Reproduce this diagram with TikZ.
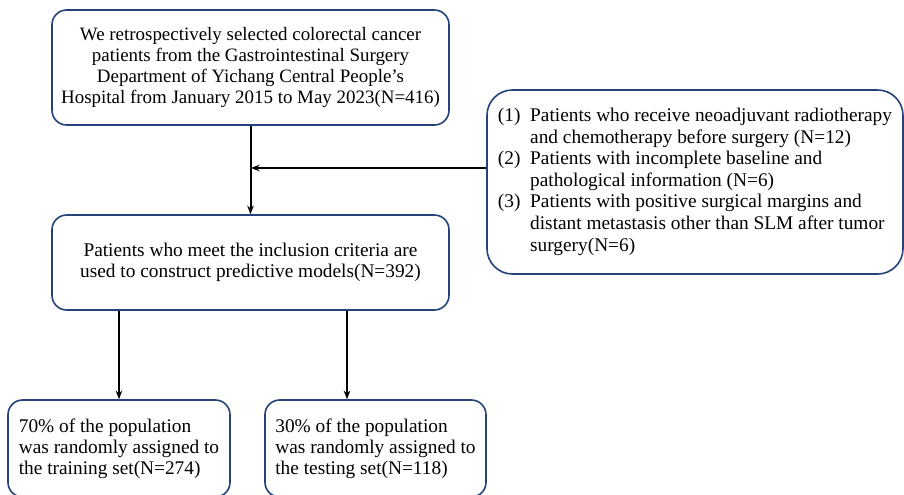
\documentclass[tikz,border=0pt]{standalone}
\usepackage{fontspec}
\setmainfont{Liberation Serif}
\usepackage{tikz}
\usetikzlibrary{positioning,arrows.meta}
\definecolor{boxblue}{RGB}{38,66,122}
\tikzset{%
  ptr/.style={%
    -{Stealth[length=6.5pt,width=5pt]},
    line width=1.5pt
  },
  stagebox/.style={%
    draw=boxblue,
    line width=1.2pt,
    rounded corners=11pt,
    inner sep=0pt,
    align=center,
    font=\fontsize{14.5}{15.9}\selectfont
  }
}

\begin{document}
\begin{tikzpicture}[x=0.75pt,y=-0.75pt]
    \useasboundingbox (0,0) rectangle (904,494);
    \clip (0,0) rectangle (904,494);

    \node[stagebox,font=\fontsize{14.2}{15.9}\selectfont,minimum width=397*0.75pt,minimum height=115*0.75pt] (start) at (250.5,67.5)
    {We retrospectively selected colorectal cancer\\
     patients from the Gastrointestinal Surgery\\
     Department of Yichang Central People's\\
     Hospital from January 2015 to May 2023(N=416)};

    \node[stagebox,minimum width=397*0.75pt,minimum height=95*0.75pt] (model) at (250.5,262.5)
    {Patients who meet the inclusion criteria are\\
     used to construct predictive models(N=392)};

    \node[stagebox,rounded corners=19pt,minimum width=416*0.75pt,minimum height=184*0.75pt] (excl) at (695,182)
    {\renewcommand{\arraystretch}{1.02}%
     \begin{tabular}{@{}l@{~~}l@{}}
     (1) & Patients who receive neoadjuvant radiotherapy\\
         & and chemotherapy before surgery (N=12)\\
     (2) & Patients with incomplete baseline and\\
         & pathological information (N=6)\\
     (3) & Patients with positive surgical margins and\\
         & distant metastasis other than SLM after tumor\\
         & surgery(N=6)
     \end{tabular}};

    \node[stagebox,align=left,minimum width=222*0.75pt,minimum height=97*0.75pt] (train) at (119,448.5)
    {70\% of the population\\
     was randomly assigned to\\
     the training set(N=274)};

    \node[stagebox,align=left,minimum width=221*0.75pt,minimum height=97*0.75pt] (test) at (375.5,448.5)
    {30\% of the population\\
     was randomly assigned to\\
     the testing set(N=118)};

    % arrows
    \coordinate (join) at (251,168);
    \coordinate (tsplit) at (347,0);
    \draw[ptr] (start.south) -- (model.north);
    \draw[ptr] (excl.west |- join) -- (join);
    \draw[ptr] (model.south -| train.north) -- (train.north);
    \draw[ptr] (model.south -| tsplit) -- (test.north -| tsplit);
\end{tikzpicture}
\end{document}
